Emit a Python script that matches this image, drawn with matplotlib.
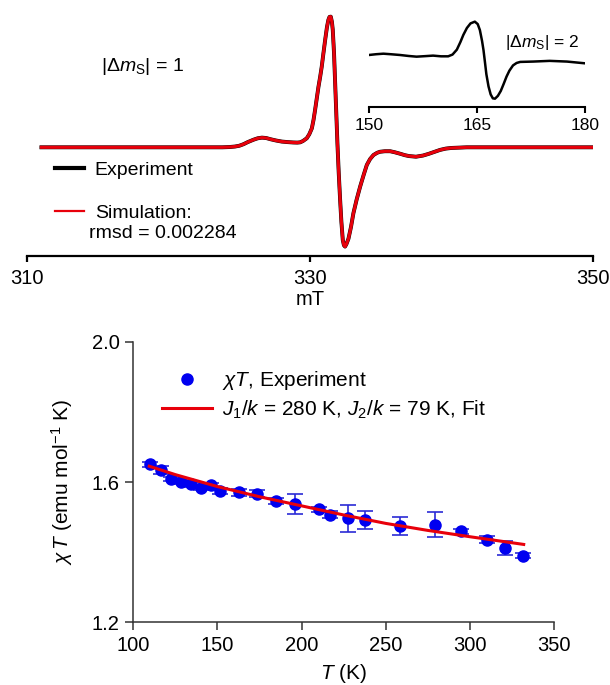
import matplotlib
matplotlib.use("Agg")
import matplotlib.pyplot as plt
from matplotlib.lines import Line2D

plt.rcParams['font.family'] = ['Liberation Sans', 'DejaVu Sans']
plt.rcParams['mathtext.fontset'] = 'custom'
plt.rcParams['mathtext.rm'] = 'Liberation Sans'
plt.rcParams['mathtext.it'] = 'Liberation Sans:italic'
plt.rcParams['mathtext.bf'] = 'Liberation Sans:bold'

# EPR spectrum, |dm_S| = 1 region (mT, normalised derivative signal)
field_mT = [311.0, 323.8, 324.3, 324.7, 325.0, 325.3, 325.6, 326.0, 326.3, 326.6,
            326.9, 327.2, 327.6, 328.0, 328.4, 328.8, 329.1, 329.3, 329.5, 329.77,
            329.95, 330.13, 330.25, 330.36, 330.48, 330.6, 330.72, 330.83, 330.95, 331.07,
            331.2, 331.3, 331.38, 331.47, 331.55, 331.61, 331.7, 331.78, 331.86, 331.94,
            332.03, 332.13, 332.22, 332.32, 332.4, 332.48, 332.58, 332.72, 332.9, 333.07,
            333.3, 333.55, 333.8, 334.02, 334.25, 334.49, 334.75, 334.96, 335.3, 335.67,
            336.0, 336.4, 336.7, 337.0, 337.5, 338.0, 338.4, 338.8, 339.2, 339.6,
            340.0, 341.1, 350.0]
exp_signal = [0, 0, 0.002, 0.006, 0.012, 0.024, 0.04, 0.058, 0.069, 0.074,
              0.071, 0.062, 0.052, 0.044, 0.04, 0.037, 0.036, 0.038, 0.048, 0.069,
              0.10, 0.145, 0.21, 0.286, 0.375, 0.464, 0.54, 0.617, 0.72, 0.82,
              0.92, 0.975, 0.998, 1.0, 0.96, 0.9, 0.72, 0.49, 0.26, 0.03,
              -0.19, -0.40, -0.57, -0.71, -0.75, -0.76, -0.74, -0.70, -0.61, -0.505,
              -0.40, -0.30, -0.21, -0.135, -0.09, -0.059, -0.042, -0.034, -0.03, -0.03,
              -0.038, -0.05, -0.06, -0.067, -0.072, -0.063, -0.05, -0.035, -0.02, -0.01,
              -0.005, 0, 0]
sim_signal = exp_signal

# half-field region |dm_S| = 2
half_field_mT = [150.0, 151.0, 152.0, 153.0, 154.3, 155.5, 156.6, 157.8, 158.9, 160.0,
                 161.0, 161.6, 162.2, 162.7, 163.1, 163.6, 164.1, 164.7, 165.1, 165.4,
                 165.7, 165.9, 166.1, 166.3, 166.6, 166.9, 167.2, 167.5, 167.9, 168.3,
                 168.7, 169.1, 169.5, 170.0, 170.5, 171.0, 172.8, 175.1, 177.5, 180.0]
half_signal = [0.048, 0.07, 0.085, 0.07, 0.048, 0.02, 0.0, 0.015, 0.03, 0.01,
               0.01, 0.06, 0.2, 0.42, 0.62, 0.82, 0.95, 1.0, 0.93, 0.76,
               0.45, 0.19, -0.15, -0.5, -0.85, -1.08, -1.19, -1.2, -1.12, -0.98,
               -0.78, -0.57, -0.40, -0.25, -0.18, -0.15, -0.14, -0.12, -0.14, -0.19]

# chi*T vs T
T_K = [109.7, 116.2, 122.5, 128.2, 134.0, 140.5, 146.3, 151.6, 162.7, 173.6, 185.0,
       195.8, 210.4, 216.9, 227.3, 237.5, 258.3, 279.4, 294.9, 310.0, 321.0, 331.5]
chiT = [1.650, 1.634, 1.608, 1.599, 1.593, 1.582, 1.591, 1.574, 1.571, 1.566, 1.546,
        1.537, 1.522, 1.506, 1.496, 1.491, 1.474, 1.478, 1.460, 1.435, 1.413, 1.390]
chiT_err = [0.006, 0.012, 0.006, 0.006, 0.008, 0.006, 0.006, 0.008, 0.010, 0.010, 0.008,
            0.028, 0.008, 0.010, 0.038, 0.026, 0.025, 0.036, 0.007, 0.010, 0.020, 0.008]
fit_T = [109.5, 125, 150, 175, 200, 225, 250, 275, 300, 332]
fit_chiT = [1.645, 1.621, 1.587, 1.558, 1.532, 1.506, 1.482, 1.462, 1.444, 1.422]

W, H = 610, 685
fig = plt.figure(figsize=(W / 100, H / 100), dpi=100)

def box(x0, y0, x1, y1):
    # pixel box (top-left origin) -> figure fraction rect
    return [x0 / W, 1 - y1 / H, (x1 - x0) / W, (y1 - y0) / H]

# ---- top: EPR ----
ax1 = fig.add_axes(box(27.3, 10, 592.7, 256))
ax1.plot(field_mT, exp_signal, color='black', lw=2.8)
ax1.plot(field_mT, sim_signal, color='#e8000b', lw=2.3)
ax1.set_xlim(310, 350)
ax1.set_ylim(-0.832, 1.051)
for s in ['left', 'right', 'top']:
    ax1.spines[s].set_visible(False)
ax1.spines['bottom'].set_linewidth(1.6)
ax1.set_yticks([])
ax1.set_xticks([310, 330, 350])
ax1.tick_params(axis='x', direction='out', length=4, width=1.6, labelsize=14.5, pad=5)
ax1.set_xlabel('mT', fontsize=14.5, labelpad=2)
ax1.text(0.13, 0.77, r'$|\Delta m_\mathrm{S}|$ = 1', transform=ax1.transAxes,
         fontsize=14, va='center', ha='left')

h_exp = Line2D([], [], color='black', lw=3)
h_sim = Line2D([], [], color='#e8000b', lw=1.6)
ax1.legend([h_exp, h_sim], ['Experiment', 'Simulation:'], loc='upper left',
           bbox_to_anchor=(55 / W, 1 - 161 / H), bbox_transform=fig.transFigure,
           frameon=False, fontsize=14, handlelength=1.5, handletextpad=0.55,
           labelspacing=1.3, borderpad=0, borderaxespad=0)
fig.text(89 / W, 1 - 233 / H, 'rmsd = 0.002284', fontsize=14, va='center', ha='left')

# inset
ax2 = fig.add_axes(box(369, 15, 585, 106.7))
ax2.plot(half_field_mT, half_signal, color='black', lw=1.8)
ax2.set_xlim(150, 180)
ax2.set_ylim(-1.429, 1.19)
for s in ['left', 'right', 'top']:
    ax2.spines[s].set_visible(False)
ax2.spines['bottom'].set_linewidth(1.5)
ax2.set_yticks([])
ax2.set_xticks([150, 165, 180])
ax2.tick_params(axis='x', direction='out', length=4, width=1.5, labelsize=12.5, pad=4)
ax2.patch.set_alpha(0)
fig.text(505 / W, 1 - 42 / H, r'$|\Delta m_\mathrm{S}|$ = 2', fontsize=12.5, va='center', ha='left')

# ---- bottom: chi T ----
ax3 = fig.add_axes(box(133.3, 341.7, 554, 622.3))
ax3.errorbar(T_K, chiT, yerr=chiT_err, fmt='none', ecolor='#2b2bd6', elinewidth=1.2,
             capsize=5.5, capthick=1.2)
ax3.plot(T_K, chiT, 'o', color='#0000f0', ms=8, label=r'$\chi T$, Experiment')
ax3.plot(fit_T, fit_chiT, color='#e8000b', lw=2.2,
         label=r'$J_\mathrm{1}/k$ = 280 K, $J_\mathrm{2}/k$ = 79 K, Fit')
ax3.set_xlim(100, 350)
ax3.set_ylim(1.2, 2.0)
ax3.set_xticks([100, 150, 200, 250, 300, 350])
ax3.set_yticks([1.2, 1.6, 2.0])
ax3.set_yticklabels(['1.2', '1.6', '2.0'])
for s in ['right', 'top']:
    ax3.spines[s].set_visible(False)
for s in ['left', 'bottom']:
    ax3.spines[s].set_linewidth(1.1)
    ax3.spines[s].set_color('#333333')
ax3.tick_params(direction='out', length=6, width=1.1, color='#333333', labelsize=14.5, pad=4)
ax3.set_xlabel(r'$T$ (K)', fontsize=15, labelpad=5)
ax3.set_ylabel(r'$\chi\,T$ (emu mol$^{\mathrm{-1}}$ K)', fontsize=15, labelpad=12)
ax3.legend(loc='upper left', bbox_to_anchor=(162 / W, 1 - 369 / H),
           bbox_transform=fig.transFigure, frameon=False, fontsize=15,
           handlelength=2.4, handletextpad=0.5, labelspacing=0.3,
           borderpad=0, borderaxespad=0)

fig.savefig('out.png', dpi=100)
